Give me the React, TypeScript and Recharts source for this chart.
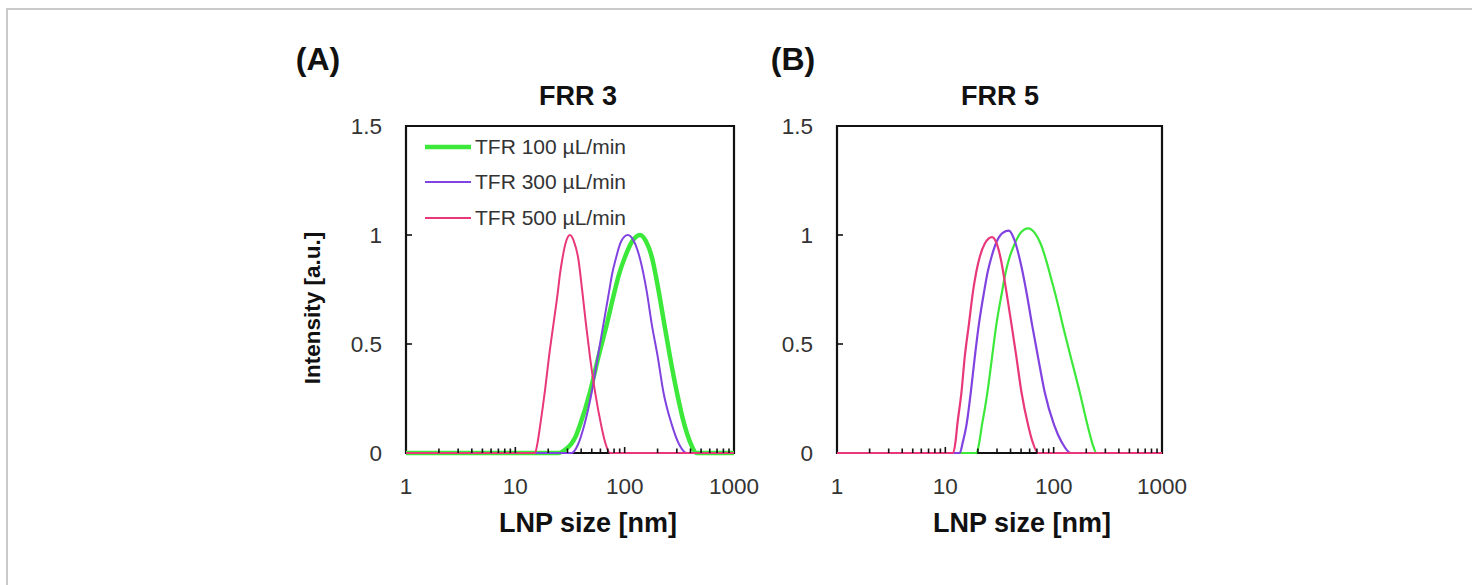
import { Legend, Line, LineChart, ReferenceArea, XAxis, YAxis } from "recharts";

type Pt = { x: number; y: number };

// size [nm], normalised intensity
const frr3Tfr100: [number, number][] = [
  [1, 0], [24.7, 0], [28.5, 0.015], [32.8, 0.045], [35.9, 0.08], [39.1, 0.13], [48.2, 0.28],
  [57.5, 0.44], [68.6, 0.59], [81.7, 0.75], [88.9, 0.82], [100.9, 0.9], [116.9, 0.97],
  [138.3, 1.0], [157, 0.97], [177, 0.9], [203.4, 0.75], [230.7, 0.59], [260.2, 0.44],
  [299.8, 0.28], [351.6, 0.13], [396.6, 0.05], [456.8, 0], [1000, 0],
];
const frr3Tfr300: [number, number][] = [
  [1, 0], [32.8, 0], [37.5, 0.04], [42.8, 0.13], [50, 0.28], [56.7, 0.44], [63.9, 0.59],
  [72, 0.74], [76.7, 0.82], [82.9, 0.89], [92.7, 0.97], [106.8, 1.0], [121.9, 0.97],
  [138.3, 0.89], [159.3, 0.74], [177, 0.59], [200.9, 0.44], [226, 0.28], [269.8, 0.13],
  [314.5, 0.04], [370, 0], [1000, 0],
];
const frr3Tfr500: [number, number][] = [
  [1, 0], [15.1, 0], [16, 0.05], [16.8, 0.12], [18.7, 0.29], [20.3, 0.44], [22.3, 0.59],
  [24.5, 0.74], [25.6, 0.82], [26.9, 0.89], [29.1, 0.97], [31.6, 1.0], [34.4, 0.97],
  [37.7, 0.89], [41, 0.74], [44.3, 0.59], [48.2, 0.44], [53.6, 0.28], [60.8, 0.13],
  [66.2, 0.05], [73.5, 0], [1000, 0],
];
const frr5Tfr100: [number, number][] = [
  [1, 0], [19.4, 0], [20.6, 0.05], [21.8, 0.13], [23.1, 0.2], [24.5, 0.28], [27, 0.44],
  [29.6, 0.59], [33.4, 0.74], [36.1, 0.83], [39.3, 0.9], [43.7, 0.96], [49.6, 1.01],
  [58, 1.03], [66.8, 1.01], [75.9, 0.96], [85.7, 0.88], [94.8, 0.8], [105.9, 0.71],
  [123.6, 0.57], [145.6, 0.43], [173.8, 0.28], [207, 0.12], [228.8, 0.04], [249, 0], [1000, 0],
];
const frr5Tfr300: [number, number][] = [
  [1, 0], [13.6, 0], [14.5, 0.05], [15.7, 0.13], [17.2, 0.28], [18.7, 0.44], [20.4, 0.59],
  [22.8, 0.74], [24.6, 0.83], [26.7, 0.9], [29.8, 0.97], [33.9, 1.01], [38.5, 1.02],
  [43.2, 0.98], [48.6, 0.89], [56, 0.74], [63.1, 0.59], [71.7, 0.44], [82.6, 0.28],
  [100.7, 0.13], [118.5, 0.05], [143.5, 0], [1000, 0],
];
const frr5Tfr500: [number, number][] = [
  [1, 0], [11.8, 0], [12.4, 0.05], [12.9, 0.13], [14.1, 0.28], [15.1, 0.44], [16.5, 0.59],
  [18, 0.74], [19.3, 0.83], [20.8, 0.9], [23.1, 0.96], [27, 0.99], [29.8, 0.96],
  [32.5, 0.89], [36.6, 0.74], [40.8, 0.59], [45.3, 0.44], [50.4, 0.28], [58, 0.13],
  [64, 0.05], [71.7, 0], [1000, 0],
];

const seriesNames = ["TFR 100 µL/min", "TFR 300 µL/min", "TFR 500 µL/min"];
const seriesColors = ["#3ce83a", "#8043e0", "#e8377a"];

const xTicks = [
  1, 2, 3, 4, 5, 6, 7, 8, 9, 10, 20, 30, 40, 50, 60, 70, 80, 90,
  100, 200, 300, 400, 500, 600, 700, 800, 900, 1000,
];
const xLabels = [1, 10, 100, 1000];
const yTicks = [0, 0.5, 1, 1.5];

const FONT = '"Liberation Sans", Arial, sans-serif';

const toPts = (arr: [number, number][]): Pt[] => arr.map(([x, y]) => ({ x, y }));

const XTick = ({ x, y, payload }: any) => {
  const v = payload.value;
  const major = xLabels.includes(v);
  return (
    <g>
      {v > 1 && v < 1000 && (
        <line x1={x} x2={x} y1={y} y2={y - (major ? 6 : 4.5)} stroke="#111" strokeWidth={1.6} />
      )}
      {major && (
        <text x={x} y={y + 41} textAnchor="middle" fontSize={22.5} fill="#333" fontFamily={FONT}>
          {v}
        </text>
      )}
    </g>
  );
};

const YTick = ({ x, y, payload }: any) => {
  const v = payload.value;
  return (
    <g>
      {v > 0 && v < 1.5 && <line x1={x} x2={x + 6} y1={y} y2={y} stroke="#111" strokeWidth={1.6} />}
      <text x={x - 24} y={y + 8} textAnchor="end" fontSize={22.5} fill="#333" fontFamily={FONT}>
        {v}
      </text>
    </g>
  );
};

type PanelProps = {
  left: number;
  width: number;
  marginLeft: number;
  marginRight: number;
  data: [number, number][][];
  widths: number[];
  legend?: boolean;
};

const Panel = ({ left, width, marginLeft, marginRight, data, widths, legend }: PanelProps) => {
  const renderLegend = () => (
    <div style={{ fontFamily: FONT }}>
      {seriesNames.map((name, i) => (
        <div key={name} style={{ display: "flex", alignItems: "center", height: 35.5 }}>
          <svg width={46} height={10}>
            <line x1={0} x2={46} y1={5} y2={5} stroke={seriesColors[i]} strokeWidth={widths[i]} />
          </svg>
          <span style={{ marginLeft: 4, fontSize: 21, color: "#333" }}>{name}</span>
        </div>
      ))}
    </div>
  );

  return (
    <div style={{ position: "absolute", left, top: 40 }}>
      <LineChart
        width={width}
        height={510}
        margin={{ top: 86, right: marginRight, bottom: 57, left: marginLeft }}
      >
        <ReferenceArea x1={1} x2={1000} y1={0} y2={1.5} fill="none" stroke="#111" strokeWidth={2.2} ifOverflow="visible" />
        <XAxis
          dataKey="x"
          type="number"
          scale="log"
          domain={[1, 1000]}
          ticks={xTicks}
          interval={0}
          tick={<XTick />}
          tickSize={0}
          tickMargin={0}
          tickLine={false}
          axisLine={false}
          height={40}
          allowDataOverflow
        />
        <YAxis
          type="number"
          domain={[0, 1.5]}
          ticks={yTicks}
          interval={0}
          tick={<YTick />}
          tickSize={0}
          tickMargin={0}
          tickLine={false}
          axisLine={false}
          width={60}
        />
        {legend && (
          <Legend
            layout="vertical"
            align="center"
            verticalAlign="middle"
            content={renderLegend}
            wrapperStyle={{ left: 145, top: 89, width: 260 }}
          />
        )}
        {data.map((d, i) => (
          <Line
            key={seriesNames[i]}
            name={seriesNames[i]}
            data={toPts(d)}
            dataKey="y"
            type="monotone"
            stroke={seriesColors[i]}
            strokeWidth={widths[i]}
            dot={false}
            activeDot={false}
            isAnimationActive={false}
          />
        ))}
      </LineChart>
    </div>
  );
};

const txt = (s: string, cx: number, cy: number, size: number, extra: any = {}) => (
  <div
    style={{
      position: "absolute",
      left: cx,
      top: cy,
      transform: `translate(-50%, -50%) ${extra.rotate ? "rotate(-90deg)" : ""}`,
      fontFamily: FONT,
      fontWeight: "bold",
      fontSize: size,
      color: "#111",
      whiteSpace: "nowrap",
    }}
  >
    {s}
  </div>
);

export default function App() {
  return (
    <div
      style={{
        position: "absolute",
        left: 0,
        top: 0,
        width: 1472,
        height: 585,
        overflow: "hidden",
        background: "#fff",
      }}
    >
      <div
        style={{
          position: "absolute",
          left: 6,
          top: 8,
          width: 1500,
          height: 620,
          border: "2px solid #cacaca",
        }}
      />
      <Panel
        left={280}
        width={480}
        marginLeft={66}
        marginRight={26}
        data={[frr3Tfr100, frr3Tfr300, frr3Tfr500]}
        widths={[4.5, 2, 2]}
        legend
      />
      <Panel
        left={770}
        width={420}
        marginLeft={7}
        marginRight={28}
        data={[frr5Tfr100, frr5Tfr300, frr5Tfr500]}
        widths={[2.2, 2.2, 2.2]}
      />
      {txt("(A)", 318, 59, 32)}
      {txt("(B)", 793, 59, 32)}
      {txt("FRR 3", 578, 96, 27)}
      {txt("FRR 5", 1000, 96, 27)}
      {txt("LNP size [nm]", 588, 523, 27)}
      {txt("LNP size [nm]", 1022, 523, 27)}
      {txt("Intensity [a.u.]", 313, 308, 22.5, { rotate: true })}
    </div>
  );
}
